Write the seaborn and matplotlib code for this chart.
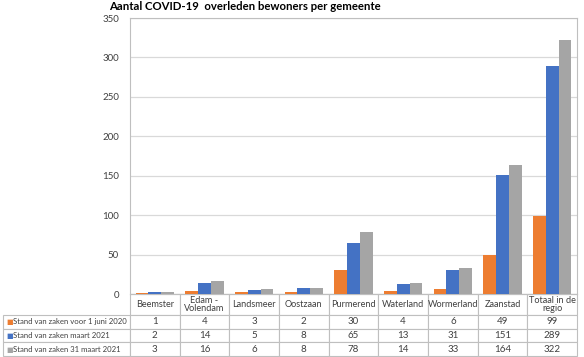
import matplotlib
matplotlib.use("Agg")
import matplotlib.pyplot as plt
import seaborn as sns
import pandas as pd

# Data
gemeenten = ["Beemster", "Edam -\nVolendam", "Landsmeer", "Oostzaan", "Purmerend",
             "Waterland", "Wormerland", "Zaanstad", "Totaal in de\nregio"]
reeksen = ["Stand van zaken voor 1 juni 2020", "Stand van zaken maart 2021",
           "Stand van zaken 31 maart 2021"]
juni_2020 = [1, 4, 3, 2, 30, 4, 6, 49, 99]
maart_2021 = [2, 14, 5, 8, 65, 13, 31, 151, 289]
eind_maart_2021 = [3, 16, 6, 8, 78, 14, 33, 164, 322]
kleuren = ["#ED7D31", "#4472C4", "#A5A5A5"]

series = [juni_2020, maart_2021, eind_maart_2021]
df = pd.DataFrame({
    "gemeente": gemeenten * 3,
    "reeks": [r for r in reeksen for _ in gemeenten],
    "aantal": juni_2020 + maart_2021 + eind_maart_2021,
})

sns.set_theme(style="white")
plt.rcParams["font.family"] = ["Lato", "DejaVu Sans"]

fig = plt.figure(figsize=(5.84, 3.57), dpi=100)
W, H = 584, 357
left, right, top, bottom = 130, 577, 18, 294
ax = fig.add_axes([left / W, 1 - bottom / H, (right - left) / W, (bottom - top) / H])

sns.barplot(data=df, x="gemeente", y="aantal", hue="reeks", palette=kleuren,
            width=0.77, saturation=1, legend=False, ax=ax, zorder=3, linewidth=0)

ax.set_ylim(0, 350)
ax.set_yticks(range(0, 351, 50))
ax.yaxis.grid(True, color="#D9D9D9", linewidth=0.9, zorder=0)
ax.set_axisbelow(True)
ax.tick_params(axis="y", length=0, labelsize=7, colors="#404040", pad=8)
ax.set_xticks([])
ax.set_xlabel("")
ax.set_ylabel("")
for s in ax.spines.values():
    s.set_color("#BFBFBF")
    s.set_linewidth(0.8)

# data table under the axes
axw = right - left
axh = bottom - top
lab_w = 127
tab_h = 62
header_h = 21
row_h = (tab_h - header_h) / 3

cell_text = [[""] + gemeenten]
for vals in series:
    cell_text.append([""] + [str(v) for v in vals])

col_w = [lab_w] + [axw / 9] * 9
tab = ax.table(cellText=cell_text, colWidths=col_w,
               bbox=[-lab_w / axw, -tab_h / axh, (lab_w + axw) / axw, tab_h / axh],
               cellLoc="center")
tab.auto_set_font_size(False)
for (i, j), cell in tab.get_celld().items():
    cell.set_edgecolor("#BFBFBF")
    cell.set_linewidth(0.8)
    txt = cell.get_text()
    txt.set_fontsize(6.6 if i == 0 else 7)
    txt.set_color("#404040")
    txt.set_linespacing(0.95)
    cell.set_height(header_h if i == 0 else row_h)
    if i == 0 and j == 0:
        cell.set_linewidth(0)

# row labels with legend keys, one size that fits the label column
renderer = fig.canvas.get_renderer()
labels = []
for k, (naam, kleur) in enumerate(zip(reeksen, kleuren)):
    yc = -(header_h + row_h * (k + 0.5)) / axh
    ax.text(-lab_w / axw + 3 / axw, yc, "■", color=kleur, fontsize=5,
            ha="left", va="center", transform=ax.transAxes, clip_on=False)
    labels.append(ax.text(-lab_w / axw + 10 / axw, yc, naam, color="#404040",
                          fontsize=7, ha="left", va="center",
                          transform=ax.transAxes, clip_on=False, zorder=10))
widest = max(t.get_window_extent(renderer).width for t in labels)
size = min(7, 7 * 114 / widest)
for t in labels:
    t.set_fontsize(size)

fig.text(245 / W, 1 - 7 / H, "Aantal COVID-19  overleden bewoners per gemeente",
         ha="center", va="center", fontsize=8.2, fontweight="bold", color="#000000")

fig.savefig("out.png", dpi=100)
